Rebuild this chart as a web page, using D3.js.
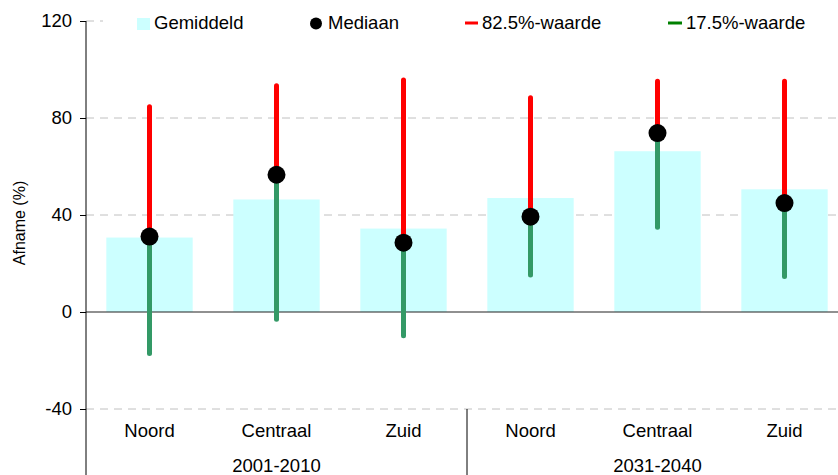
<!DOCTYPE html>
<html>
<head>
<meta charset="utf-8">
<script src="https://cdn.jsdelivr.net/npm/d3@7"></script>
<style>
  body { margin: 0; background: #fff; }
  svg { display: block; font-family: "Liberation Sans", Arial, sans-serif; }
</style>
</head>
<body>
<div id="chart"></div>
<script>
// categories
var regions = ["Noord", "Centraal", "Zuid", "Noord", "Centraal", "Zuid"];
var periods = ["2001-2010", "2031-2040"];
// series values (%)
var gemiddeld = [30.7, 46.4, 34.4, 47.0, 66.3, 50.6];
var mediaan = [31.1, 56.6, 28.6, 39.3, 73.8, 44.9];
var waarde825 = [84.6, 93.3, 95.7, 88.3, 95.2, 95.2];
var waarde175 = [-17.1, -3.0, -9.8, 15.3, 35.0, 14.6];
var yTicks = [-40, 0, 40, 80, 120];

var width = 838, height = 475;
var margin = { top: 21, left: 86, right: -10, bottom: 66 };
var fontSize = 18.5;

var svg = d3.select("#chart").append("svg")
    .attr("width", width).attr("height", height);

var x = d3.scaleBand()
    .domain(d3.range(regions.length))
    .range([margin.left, width - margin.right])
    .paddingInner(0.32).paddingOuter(0.16);
var y = d3.scaleLinear().domain([-40, 120])
    .range([height - margin.bottom, margin.top]);

var green = "#339966", red = "#ff0000", barFill = "#ccffff";

// gridlines
svg.append("g").selectAll("line").data(yTicks.filter(function (d) { return d !== 0; }))
  .enter().append("line")
    .attr("x1", margin.left).attr("x2", width)
    .attr("y1", function (d) { return y(d); }).attr("y2", function (d) { return y(d); })
    .attr("stroke", "#c0c0c0").attr("stroke-width", 1)
    .attr("stroke-dasharray", "8,6");

// bars
svg.append("g").selectAll("rect").data(gemiddeld).enter().append("rect")
    .attr("x", function (d, i) { return x(i); })
    .attr("width", x.bandwidth())
    .attr("y", function (d) { return y(d); })
    .attr("height", function (d) { return y(0) - y(d); })
    .attr("fill", barFill);

// zero line
svg.append("line")
    .attr("x1", margin.left).attr("x2", width)
    .attr("y1", y(0)).attr("y2", y(0))
    .attr("stroke", "#222").attr("stroke-width", 1.2);

var cx = function (i) { return x(i) + x.bandwidth() / 2; };

// 17.5% lines
svg.append("g").selectAll("line").data(waarde175).enter().append("line")
    .attr("x1", function (d, i) { return cx(i); }).attr("x2", function (d, i) { return cx(i); })
    .attr("y1", function (d) { return y(d); })
    .attr("y2", function (d, i) { return y(mediaan[i]); })
    .attr("stroke", green).attr("stroke-width", 5).attr("stroke-linecap", "round");

// 82.5% lines
svg.append("g").selectAll("line").data(waarde825).enter().append("line")
    .attr("x1", function (d, i) { return cx(i); }).attr("x2", function (d, i) { return cx(i); })
    .attr("y1", function (d) { return y(d); })
    .attr("y2", function (d, i) { return y(mediaan[i]); })
    .attr("stroke", red).attr("stroke-width", 5).attr("stroke-linecap", "round");

// medians
svg.append("g").selectAll("circle").data(mediaan).enter().append("circle")
    .attr("cx", function (d, i) { return cx(i); })
    .attr("cy", function (d) { return y(d); })
    .attr("r", 9).attr("fill", "#000");

// y axis
var yAxis = d3.axisLeft(y).tickValues(yTicks).tickSize(6).tickPadding(8)
    .tickFormat(function (d) { return String(d); });
var gy = svg.append("g").attr("transform", "translate(" + margin.left + ",0)").call(yAxis);
gy.select(".domain").remove();
gy.selectAll("text").attr("font-size", fontSize).attr("fill", "#000")
    .attr("font-family", "Liberation Sans, Arial, sans-serif");
gy.selectAll("line").attr("stroke", "#000");
svg.append("line")
    .attr("x1", margin.left).attr("x2", margin.left)
    .attr("y1", y(120)).attr("y2", height)
    .attr("stroke", "#000").attr("stroke-width", 1);

svg.append("text")
    .attr("transform", "translate(25," + 223 + ") rotate(-90)")
    .attr("text-anchor", "middle").attr("font-size", 16)
    .text("Afname (%)");

// category labels
svg.append("g").selectAll("text").data(regions).enter().append("text")
    .attr("x", function (d, i) { return cx(i); })
    .attr("y", 437)
    .attr("text-anchor", "middle").attr("font-size", fontSize)
    .text(function (d) { return d; });

// period labels
svg.append("g").selectAll("text").data(periods).enter().append("text")
    .attr("x", function (d, i) { return cx(i * 3 + 1); })
    .attr("y", 472)
    .attr("text-anchor", "middle").attr("font-size", fontSize)
    .text(function (d) { return d; });

// group separator
svg.append("line")
    .attr("x1", x(3) - x.step() * x.paddingInner() / 2)
    .attr("x2", x(3) - x.step() * x.paddingInner() / 2)
    .attr("y1", y(-40)).attr("y2", height)
    .attr("stroke", "#000").attr("stroke-width", 1);

// legend
var legend = svg.append("g");
legend.append("rect").attr("x", 103).attr("y", 6).attr("width", 735).attr("height", 32).attr("fill", "#fff");
legend.append("rect").attr("x", 137).attr("y", 18).attr("width", 13).attr("height", 12).attr("fill", barFill);
legend.append("text").attr("x", 154).attr("y", 29).attr("font-size", fontSize).text("Gemiddeld");
legend.append("circle").attr("cx", 316).attr("cy", 23.5).attr("r", 6).attr("fill", "#000");
legend.append("text").attr("x", 328).attr("y", 29).attr("font-size", fontSize).text("Mediaan");
legend.append("line").attr("x1", 465).attr("x2", 478).attr("y1", 23).attr("y2", 23)
    .attr("stroke", red).attr("stroke-width", 3);
legend.append("text").attr("x", 482).attr("y", 29).attr("font-size", fontSize).text("82.5%-waarde");
legend.append("line").attr("x1", 668).attr("x2", 682).attr("y1", 23).attr("y2", 23)
    .attr("stroke", "#008000").attr("stroke-width", 3);
legend.append("text").attr("x", 686).attr("y", 29).attr("font-size", fontSize).text("17.5%-waarde");
</script>
</body>
</html>
